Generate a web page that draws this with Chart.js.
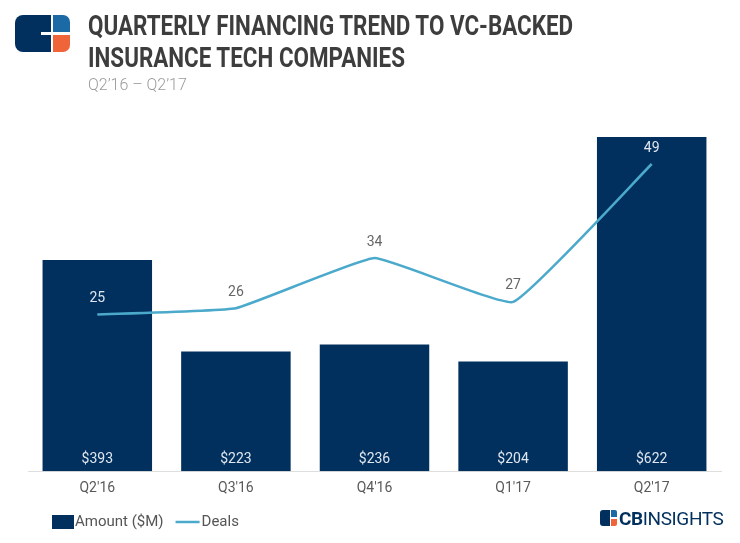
<!DOCTYPE html>
<html lang="en">
<head>
    <meta charset="UTF-8">
    <title>Quarterly Financing Trend to VC-Backed Insurance Tech Companies</title>
    <script src="https://cdn.jsdelivr.net/npm/chart.js"></script>
    <style>
        body {
            margin: 0;
            background: #ffffff;
            font-family: Roboto, Arial, sans-serif;
        }

        .page {
            position: relative;
            width: 740px;
            height: 543px;
            overflow: hidden;
        }

        canvas {
            position: absolute;
            left: 0;
            top: 0;
        }

        .logo {
            position: absolute;
            left: 15px;
            top: 15px;
            width: 56px;
            height: 37px;
        }
        .logo .navy {
            position: absolute; left: 0; top: 0; width: 36px; height: 37px;
            background: #02305e; border-radius: 8px 0 0 8px;
        }
        .logo .cut {
            position: absolute; left: 26px; top: 17px; width: 10px; height: 3px; background: #fff;
        }
        .logo .blue {
            position: absolute; left: 38px; top: 0; width: 17px; height: 17px;
            background: #1b6aa5; border-radius: 0 7px 0 0;
        }
        .logo .orange {
            position: absolute; left: 38px; top: 20px; width: 17px; height: 17px;
            background: #f0643a; border-radius: 0 0 7px 0;
        }

        .title {
            position: absolute;
            left: 88px;
            top: 10px;
            font-weight: 700;
            font-size: 28px;
            line-height: 32px;
            color: #3d3d3d;
            white-space: nowrap;
            transform: scaleX(0.8);
            transform-origin: left top;
        }

        .subtitle {
            position: absolute;
            left: 88px;
            top: 75px;
            font-size: 16px;
            color: #9b9b9b;
            font-weight: 300;
        }

        .brand {
            position: absolute;
            left: 600px;
            top: 508px;
            height: 20px;
            white-space: nowrap;
        }
        .brand .ic {
            position: absolute; left: 0; top: 2px; width: 17px; height: 16px;
        }
        .brand .ic i { position: absolute; display: block; }
        .brand .txt {
            position: absolute;
            left: 19px;
            top: -1px;
            font-size: 19px;
            color: #02305e;
            letter-spacing: -0.4px;
        }
    </style>
</head>
<body>
<div class="page">
    <canvas id="financingChart" width="740" height="543"></canvas>

    <div class="logo">
        <div class="navy"></div>
        <div class="cut"></div>
        <div class="blue"></div>
        <div class="orange"></div>
    </div>
    <div class="title">QUARTERLY FINANCING TREND TO VC-BACKED<br>INSURANCE TECH COMPANIES</div>
    <div class="subtitle">Q2’16 – Q2’17</div>

    <div class="brand">
        <div class="ic">
            <i style="left:0;top:0;width:10px;height:16px;background:#02305e;border-radius:3px 0 0 3px;"></i>
            <i style="left:11px;top:0;width:6px;height:7px;background:#1b6aa5;border-radius:0 2px 0 0;"></i>
            <i style="left:11px;top:9px;width:6px;height:7px;background:#f0643a;border-radius:0 0 2px 0;"></i>
        </div>
        <div class="txt"><b>CB</b>INSIGHTS</div>
    </div>
</div>

<script>
    // chart data
    const quarters = ["Q2'16", "Q3'16", "Q4'16", "Q1'17", "Q2'17"];
    const amounts = [393, 223, 236, 204, 622];   // $M
    const deals = [25, 26, 34, 27, 49];

    const navy = '#02305e';
    const teal = '#4ba9cb';
    const fontFamily = 'Roboto, Arial, sans-serif';

    // value labels on bars (inside, at the bottom) and above line points
    const valueLabels = {
        id: 'valueLabels',
        afterDatasetsDraw(chart) {
            const ctx = chart.ctx;
            ctx.save();
            ctx.textAlign = 'center';
            ctx.textBaseline = 'middle';
            ctx.font = '14px ' + fontFamily;

            const barMeta = chart.getDatasetMeta(1);
            barMeta.data.forEach((bar, i) => {
                ctx.fillStyle = '#dfe6ee';
                ctx.fillText('$' + amounts[i], bar.x, bar.base - 12);
            });

            const lineMeta = chart.getDatasetMeta(0);
            lineMeta.data.forEach((pt, i) => {
                const ly = pt.y - 16;
                // light text when the label sits on top of a bar
                ctx.fillStyle = ly > barMeta.data[i].y + 6 ? '#dfe6ee' : '#666666';
                ctx.fillText(deals[i], pt.x, ly);
            });
            ctx.restore();
        }
    };

    // legend drawn at bottom-left
    const bottomLegend = {
        id: 'bottomLegend',
        afterDraw(chart) {
            const ctx = chart.ctx;
            const y = 522;
            let x = 52;
            ctx.save();
            ctx.font = '15px ' + fontFamily;
            ctx.textBaseline = 'middle';
            ctx.fillStyle = navy;
            ctx.fillRect(x, y - 7, 22, 14);
            x += 23;
            ctx.fillStyle = '#555555';
            ctx.fillText(chart.data.datasets[1].label, x, y);
            x += ctx.measureText(chart.data.datasets[1].label).width + 12;
            ctx.strokeStyle = teal;
            ctx.lineWidth = 2.5;
            ctx.beginPath();
            ctx.moveTo(x, y);
            ctx.lineTo(x + 24, y);
            ctx.stroke();
            x += 26;
            ctx.fillText(chart.data.datasets[0].label, x, y);
            ctx.restore();
        }
    };

    const ctx = document.getElementById('financingChart').getContext('2d');
    new Chart(ctx, {
        data: {
            labels: quarters,
            datasets: [{
                type: 'line',
                label: 'Deals',
                data: deals,
                yAxisID: 'y1',
                borderColor: teal,
                borderWidth: 2.5,
                pointRadius: 0,
                tension: 0.1,
                order: 0
            }, {
                type: 'bar',
                label: 'Amount ($M)',
                data: amounts,
                yAxisID: 'y',
                backgroundColor: navy,
                categoryPercentage: 1,
                barPercentage: 0.79,
                order: 1
            }]
        },
        options: {
            responsive: false,
            animation: false,
            layout: {
                padding: { left: 28, right: 19, top: 122, bottom: 37 }
            },
            plugins: {
                legend: { display: false },
                tooltip: { enabled: false }
            },
            scales: {
                x: {
                    grid: { display: false, drawTicks: false },
                    border: { display: true, color: '#dedede', width: 1 },
                    ticks: {
                        color: '#595959',
                        padding: 9,
                        font: { family: fontFamily, size: 14 }
                    }
                },
                y: {
                    display: false,
                    min: 0,
                    max: 650
                },
                y1: {
                    display: false,
                    position: 'right',
                    min: 0,
                    max: 55.7
                }
            }
        },
        plugins: [valueLabels, bottomLegend]
    });
</script>
</body>
</html>
